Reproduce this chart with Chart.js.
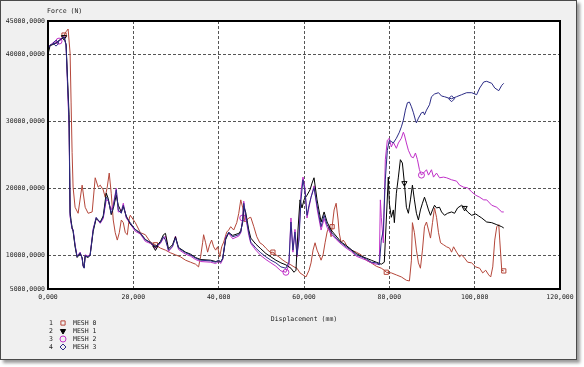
<!DOCTYPE html>
<html>
<head>
<meta charset="utf-8">
<script src="https://cdn.jsdelivr.net/npm/chart.js@4"></script>
<style>
  body { margin: 0; background: #fff; }
  #frame {
    position: absolute; left: 0; top: 0; width: 577px; height: 360px;
    box-sizing: border-box; border: 1px solid #4a4a4a; background: #f0f0f0;
    box-shadow: 3px 3px 3px #9a9a9a;
  }
  #chart { position: absolute; left: 0; top: 0; }
</style>
</head>
<body>
<div id="frame"></div>
<canvas id="chart" width="584" height="367"></canvas>
<script>
const seriesNames = ['MESH 0', 'MESH 1', 'MESH 2', 'MESH 3'];
const yTicks = [5000, 10000, 20000, 30000, 40000, 45000];

// displacement (mm) where meshes 1-3 still follow the same path
const earlyX = [
  0, 0.47, 1.18, 1.88, 2.59, 3.29, 3.76, 4.24, 4.94, 5.18,
  5.41, 5.65, 5.88, 6.35, 6.82, 7.53, 8.0, 8.24, 8.47, 8.71,
  9.41, 9.88, 10.59, 11.29, 12.24, 12.94, 13.65, 14.12, 14.82, 15.29,
  16.0, 16.47, 17.18, 17.65, 18.35, 19.29, 20.47, 21.65, 22.82, 24.0,
  25.18, 26.35, 27.06, 27.53, 28.24, 29.18, 29.88, 30.59, 32.24, 33.41,
  34.59, 35.76, 38.12, 39.29, 40.0, 40.47, 40.94, 41.65, 42.35, 43.29,
  44.71, 45.18, 45.65, 45.88, 46.35, 47.06, 47.53, 48.71, 49.88, 51.06,
  52.24, 53.41, 54.59, 55.76
];
const mesh3Early = [
  40800, 41400, 41600, 41700, 42000, 42500, 42600, 41400, 30000, 16000,
  15000, 14000, 13800, 11500, 9800, 10400, 9600, 8400, 8100, 10000,
  9800, 10000, 13800, 15700, 14900, 15700, 18700, 18300, 16300, 17200,
  19800, 16800, 16300, 17500, 15700, 14900, 13800, 13400, 12300, 12000,
  11300, 11900, 12800, 12300, 10800, 11400, 12600, 11100, 10400, 10100,
  9600, 9300, 9200, 9000, 9300, 9000, 9600, 12600, 13500, 12800,
  13100, 13500, 15300, 17800, 16000, 13400, 12000, 11100, 10400, 9800,
  9300, 8900, 8300, 8100
];
const mesh1Early = [
  40000, 41300, 41500, 41700, 42100, 42400, 42600, 41500, 31000, 16500,
  15200, 14200, 13600, 11300, 9700, 10300, 9700, 8500, 8200, 9900,
  9700, 10100, 13600, 15500, 15000, 15900, 19300, 18500, 16100, 17000,
  19000, 17500, 16500, 17300, 15900, 14700, 13900, 13300, 12400, 11900,
  11200, 12100, 13100, 13300, 11000, 11600, 12800, 11200, 10500, 10200,
  9700, 9400, 9300, 9100, 9200, 9100, 9500, 12400, 13400, 13000,
  13300, 13700, 15000, 17300, 16400, 13800, 12600, 11700, 11000, 10300,
  9800, 9300, 8900, 8600
];
const mesh2Early = [
  40900, 41300, 41800, 41900, 42000, 42300, 42700, 41300, 29000, 15800,
  14800, 13900, 13900, 11600, 9900, 10500, 9500, 8400, 8200, 10100,
  9900, 10200, 14000, 15600, 14800, 15500, 18300, 18200, 16800, 17600,
  20000, 16500, 16600, 17800, 15600, 14700, 13600, 13200, 12100, 11800,
  11100, 11800, 12600, 12900, 10600, 11300, 12900, 10900, 10200, 9900,
  9400, 9100, 9000, 8800, 9100, 8800, 9400, 12800, 13300, 12500,
  12900, 13400, 15600, 18100, 15700, 13000, 11800, 10800, 10000, 9400,
  8900, 8400, 7700, 7500
];

// meshes 2 and 3 together, up to the jump near 78 mm
const midX = [
  56.47, 56.94, 57.41, 57.88, 58.35, 58.82, 59.29, 59.76, 60.24, 60.71,
  61.18, 61.65, 62.35, 63.06, 64.0, 64.71, 65.41, 66.35, 67.53, 68.71,
  69.88, 71.06, 72.24, 73.41, 74.59, 75.76, 76.94, 77.65
];
const mesh3Mid = [
  9000, 15000, 10800, 13500, 10100, 12300, 18300, 21300, 19500, 16000,
  17500, 18700, 20100, 17500, 14300, 16000, 14600, 13500, 12600, 11900,
  11300, 10800, 10100, 9800, 9500, 9000, 8900, 8600
];
const mesh2Mid = [
  8600, 15600, 10500, 13900, 9800, 12800, 19500, 21700, 20000, 15600,
  17200, 18700, 20400, 17000, 13800, 15500, 14200, 13200, 12400, 11700,
  11100, 10600, 9900, 9600, 9300, 8900, 8700, 8700
];

const mesh3TailX = [
  78.12, 78.59, 79.06, 79.53, 80.0, 80.94, 81.65, 82.35, 82.82, 83.29,
  83.76, 84.24, 84.71, 85.18, 85.65, 86.12, 86.35, 86.82, 87.53, 88.0,
  88.24, 88.71, 89.41, 89.88, 90.59, 91.53, 92.24, 92.94, 93.88, 94.59,
  95.76, 96.94, 98.12, 99.29, 100.47, 101.18, 102.12, 102.82, 104.0, 104.71,
  105.65, 106.35, 106.82
];
const mesh3TailY = [
  12300, 13800, 21300, 25700, 27200, 26800, 27500, 28400, 29200, 30200,
  31700, 32800, 32900, 32200, 31300, 30200, 29800, 30500, 31300, 31400,
  31000, 31700, 32500, 33700, 34100, 34300, 33800, 33700, 33500, 33400,
  33700, 34000, 34300, 34300, 34000, 35000, 35900, 36000, 35700, 35000,
  34600, 35400, 35700
];

const mesh2TailX = [
  77.9, 78.12, 78.59, 79.06, 79.53, 80.0, 80.47, 80.94, 81.65, 82.12,
  82.82, 83.29, 83.53, 84.0, 84.47, 85.18, 85.65, 86.12, 86.59, 87.06,
  87.53, 88.0, 88.71, 89.18, 89.88, 90.35, 91.06, 91.76, 92.71, 93.41,
  94.59, 95.76, 96.47, 97.41, 98.35, 99.29, 100.24, 101.18, 102.12, 102.82,
  104.0, 105.18, 106.35, 106.82
];
const mesh2TailY = [
  18300, 15700, 11900, 24300, 27200, 27500, 26200, 26900, 26000, 26800,
  27500, 28400, 28000, 26800, 25700, 24700, 24600, 25300, 24300, 22800,
  22000, 22300, 22800, 22000, 22800, 21700, 22300, 21600, 21700, 21600,
  21300, 21100, 20500, 20200, 20100, 19500, 19000, 18700, 18300, 18300,
  17500, 17200, 16500, 16500
];

const mesh1TailX = [
  56.94, 57.65, 58.12, 58.59, 59.06, 59.53, 60.0, 60.71, 61.41, 61.88,
  62.35, 63.06, 64.0, 64.71, 65.41, 66.35, 67.53, 68.71, 69.88, 71.06,
  72.24, 73.41, 74.59, 75.76, 76.94, 78.12, 78.82, 79.29, 79.76, 80.0,
  80.47, 80.94, 81.18, 81.65, 82.12, 82.59, 83.06, 83.53, 84.0, 84.47,
  84.94, 85.41, 85.88, 86.35, 86.82, 87.29, 87.76, 88.24, 88.71, 89.18,
  89.65, 90.12, 90.59, 91.06, 91.76, 92.24, 92.94, 93.65, 94.59, 95.29,
  96.0, 96.94, 97.65, 98.35, 99.29, 100.24, 100.94, 101.65, 102.82, 104.0,
  105.18, 106.35, 106.82
];
const mesh1TailY = [
  8100, 7500, 7800, 13800, 18300, 17100, 18300, 19000, 19800, 20800,
  21600, 18300, 15000, 16500, 15000, 13800, 12900, 12000, 11500, 10900,
  10300, 9900, 9600, 9300, 9000, 8700, 9000, 15300, 21700, 17800,
  15700, 16800, 14900, 19300, 21700, 24300, 23800, 20800, 17200, 16300,
  18300, 20500, 18300, 16300, 15300, 16800, 17800, 18700, 17800, 16800,
  16000, 16800, 17500, 17100, 17200, 16500, 16000, 16300, 16500, 16300,
  17100, 17500, 17100, 16500, 16000, 16200, 15900, 15600, 15000, 14900,
  14600, 14300, 14100
];

const mesh0X = [
  0, 0.47, 1.18, 1.88, 2.59, 3.29, 3.76, 4.24, 4.71, 5.18,
  5.41, 5.65, 5.88, 6.35, 7.06, 8.0, 8.71, 9.41, 10.35, 11.06,
  11.76, 12.24, 12.94, 13.41, 13.88, 14.35, 14.82, 15.29, 15.76, 16.24,
  16.71, 17.18, 17.65, 18.12, 18.59, 19.06, 19.29, 20.47, 21.65, 22.82,
  24.0, 25.18, 26.35, 27.53, 28.71, 29.88, 31.06, 32.24, 33.41, 34.59,
  35.29, 35.76, 36.24, 36.47, 36.94, 37.41, 37.88, 38.35, 38.82, 39.29,
  39.76, 40.24, 40.71, 41.18, 41.88, 42.35, 42.82, 43.53, 44.24, 44.71,
  45.18, 45.65, 46.12, 46.59, 47.06, 47.53, 48.24, 48.94, 49.65, 50.35,
  51.06, 51.53, 52.24, 52.71, 53.41, 54.12, 55.06, 55.76, 56.94, 57.65,
  58.35, 59.06, 59.76, 60.47, 61.18, 61.65, 62.12, 62.59, 63.06, 63.53,
  64.0, 64.47, 64.94, 65.41, 65.88, 66.35, 66.59, 67.06, 67.53, 68.0,
  68.24, 68.71, 69.18, 69.65, 70.12, 71.06, 72.24, 73.41, 74.59, 75.76,
  76.94, 78.12, 78.82, 79.29, 80.47, 81.65, 82.82, 84.0, 84.71, 85.18,
  85.41, 85.88, 86.35, 86.82, 87.29, 87.76, 88.24, 88.71, 89.18, 89.65,
  90.12, 90.59, 91.06, 91.53, 92.0, 92.71, 93.41, 94.12, 94.59, 95.06,
  95.76, 96.47, 96.94, 97.65, 98.35, 99.29, 100.24, 101.18, 101.88, 102.59,
  103.29, 103.76, 104.24, 104.71, 105.18, 105.65, 105.88, 106.35, 106.82
];
const mesh0Y = [
  40800, 41400, 41600, 41700, 42000, 42500, 42900, 43400, 43800, 40200,
  32900, 25400, 20200, 17200, 16300, 20500, 17200, 16300, 16500, 21600,
  20200, 20500, 19800, 18700, 20200, 22300, 19300, 15300, 13400, 12300,
  13400, 15300, 14900, 13400, 13100, 15600, 16000, 14900, 13400, 13100,
  12000, 11600, 11100, 10800, 10400, 10100, 9800, 9300, 9000, 8700,
  8300, 9800, 11900, 13100, 11900, 10500, 11600, 12300, 11300, 10800,
  11300, 9800, 11300, 12000, 13500, 13800, 14300, 13800, 14900, 16300,
  18300, 17100, 15000, 15300, 15600, 15700, 14300, 12800, 11900, 11600,
  11100, 10800, 10400, 10500, 10100, 9800, 9300, 9000, 8600, 8300,
  8100, 7400, 7100, 6800, 7800, 8900, 10800, 11900, 10800, 10100,
  9300, 10100, 11900, 13500, 14300, 12800, 14300, 16800, 17800, 15300,
  13400, 11900, 12300, 11900, 11300, 10800, 10500, 10100, 9300, 8900,
  8400, 8100, 7800, 7500, 7400, 7100, 6800, 6300, 6200, 9300,
  14900, 13400, 10800, 8900, 8100, 10800, 14300, 15000, 13800, 12600,
  14900, 17100, 15700, 13400, 11900, 11600, 11300, 11100, 10500, 11300,
  10500, 9800, 10100, 9600, 9000, 8900, 8300, 8100, 7400, 7800,
  7100, 6800, 8300, 12300, 14300, 14600, 12300, 7800, 7700
];

// which points carry a symbol
const mesh0Marks = [6, 41, 83, 106, 123, 168];
const mesh1Marks = [6, 40, 111, 136];
const mesh2Marks = [4, 62, 73, 122];
const mesh3Marks = [3, 131];

function zip(xs, ys) {
  return xs.map((x, i) => ({x: x, y: ys[i]}));
}

const mesh0 = zip(mesh0X, mesh0Y);
const mesh1 = zip(earlyX, mesh1Early).concat(zip(mesh1TailX, mesh1TailY));
const mesh2 = zip(earlyX, mesh2Early).concat(zip(midX, mesh2Mid), zip(mesh2TailX, mesh2TailY));
const mesh3 = zip(earlyX, mesh3Early).concat(zip(midX, mesh3Mid), zip(mesh3TailX, mesh3TailY));

const FONT = '"DejaVu Sans Mono", monospace';

function marks(list) {
  return c => list.includes(c.dataIndex) ? 3 : 0;
}

function line(label, data, color, style, rot, list, order) {
  return {
    label: label,
    data: data,
    borderColor: color,
    borderWidth: 1,
    pointStyle: style,
    pointRotation: rot,
    pointRadius: marks(list),
    pointBorderColor: color,
    pointBackgroundColor: 'rgba(0,0,0,0)',
    pointBorderWidth: 1,
    tension: 0,
    order: order
  };
}

const framePlugin = {
  id: 'framePlugin',
  beforeDraw(chart) {
    const {ctx, chartArea: a} = chart;
    ctx.save();
    ctx.fillStyle = '#ffffff';
    ctx.fillRect(a.left, a.top, a.right - a.left, a.bottom - a.top);
    ctx.restore();
  },
  afterDatasetsDraw(chart) {
    const {ctx, chartArea: a} = chart;
    ctx.save();
    ctx.strokeStyle = '#000';
    ctx.lineWidth = 2;
    ctx.strokeRect(a.left, a.top, a.right - a.left, a.bottom - a.top);
    ctx.restore();
  },
  afterDraw(chart) {
    const ctx = chart.ctx;
    ctx.save();
    ctx.font = '6.5px ' + FONT;
    ctx.fillStyle = '#222';
    ctx.textBaseline = 'middle';
    ctx.textAlign = 'left';
    ctx.fillText('Force (N)', 47, 11);

    chart.data.datasets.forEach((ds, i) => {
      const y = 323 + i * 8;
      ctx.fillStyle = '#222';
      ctx.fillText(String(i + 1), 49, y);
      ctx.fillText(ds.label, 73, y);
      ctx.strokeStyle = ds.borderColor;
      ctx.fillStyle = i === 1 ? ds.borderColor : '#f0f0f0';
      ctx.lineWidth = 1;
      Chart.helpers.drawPoint(ctx, {
        pointStyle: ds.pointStyle,
        rotation: ds.pointRotation,
        radius: 3,
        borderWidth: 1
      }, 63, y);
    });
    ctx.restore();
  }
};

new Chart(document.getElementById('chart'), {
  type: 'line',
  data: {
    datasets: [
      line(seriesNames[0], mesh0, '#b5473a', 'rect', 0, mesh0Marks, 4),
      line(seriesNames[1], mesh1, '#000000', 'triangle', 180, mesh1Marks, 2),
      line(seriesNames[2], mesh2, '#c030c8', 'circle', 0, mesh2Marks, 3),
      line(seriesNames[3], mesh3, '#2c2c86', 'rectRot', 0, mesh3Marks, 1)
    ]
  },
  options: {
    responsive: false,
    animation: false,
    devicePixelRatio: 1,
    events: [],
    layout: {padding: {top: 21, right: 24, bottom: 42, left: 0}},
    plugins: {legend: {display: false}, tooltip: {enabled: false}, title: {display: false}},
    scales: {
      x: {
        type: 'linear',
        min: 0,
        max: 120,
        afterFit: s => { s.height = 36; },
        ticks: {
          stepSize: 20,
          padding: 4,
          color: '#222',
          font: {family: FONT, size: 6.5},
          maxRotation: 0,
          callback: v => v + ',000'
        },
        grid: {color: '#555', lineWidth: 1, drawTicks: false},
        border: {display: false, dash: [3, 2]},
        title: {
          display: true,
          text: 'Displacement (mm)',
          color: '#222',
          font: {family: FONT, size: 6.5},
          padding: {top: 0, bottom: 2}
        }
      },
      y: {
        type: 'linear',
        min: 5000,
        max: 45000,
        afterFit: s => { s.width = 48; },
        afterBuildTicks: s => { s.ticks = yTicks.map(v => ({value: v})); },
        ticks: {
          padding: 3,
          color: '#222',
          font: {family: FONT, size: 6.5},
          callback: v => v + ',0000'
        },
        grid: {color: '#555', lineWidth: 1, drawTicks: false},
        border: {display: false, dash: [3, 2]}
      }
    }
  },
  plugins: [framePlugin]
});
</script>
</body>
</html>
